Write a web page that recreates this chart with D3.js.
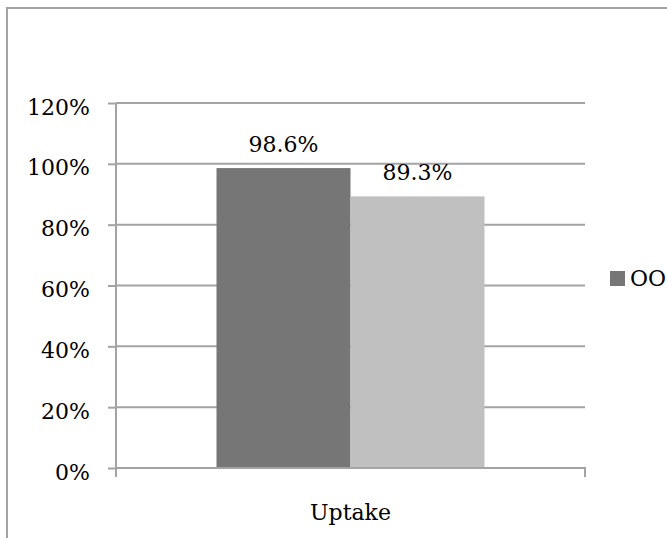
<!DOCTYPE html>
<html>
<head>
<meta charset="utf-8">
<script src="https://cdn.jsdelivr.net/npm/d3@7"></script>
<style>
  html, body { margin: 0; padding: 0; background: #fff; }
  svg { display: block; }
  text { font-family: "DejaVu Serif", "Liberation Serif", serif; fill: #000; }
</style>
</head>
<body>
<script>
// ---- data ----
const categories = ["Uptake"];
const seriesNames = ["OO", "Series 2"];
const seriesValues = [98.6, 89.3];
const seriesColors = ["#767676", "#c0c0c0"];
const legendNames = ["OO"];
const yTicks = [0, 20, 40, 60, 80, 100, 120];

// ---- layout ----
const W = 667, H = 538;
const pLeft = 116, pRight = 585, pTop = 103, pBottom = 468;
const fontSize = 22;

const svg = d3.select("body").append("svg").attr("width", W).attr("height", H);

// outer frame (cropped at right and bottom)
svg.append("path")
  .attr("d", `M7,${H + 5} L7,8 L${W + 5},8`)
  .attr("fill", "none").attr("stroke", "#a3a3a3").attr("stroke-width", 2);

const y = d3.scaleLinear().domain([0, 120]).range([pBottom, pTop]);
const x0 = d3.scaleBand().domain(categories).range([pLeft, pRight]).paddingInner(0).paddingOuter(0.375);
const x1 = d3.scaleBand().domain(seriesNames).range([0, x0.bandwidth()]).padding(0);

// gridlines
svg.append("g").selectAll("line").data(yTicks.filter(d => d > 0)).join("line")
  .attr("x1", pLeft).attr("x2", pRight)
  .attr("y1", d => y(d)).attr("y2", d => y(d))
  .attr("stroke", "#a3a3a3").attr("stroke-width", 2);

// y axis
const yAxis = svg.append("g").attr("transform", `translate(${pLeft},0)`)
  .call(d3.axisLeft(y).tickValues(yTicks).tickSize(8).tickPadding(18).tickFormat(d => d + "%"));
yAxis.select(".domain").remove();
yAxis.selectAll(".tick line").attr("stroke", "#a3a3a3").attr("stroke-width", 2);
yAxis.selectAll(".tick text").attr("font-size", fontSize).attr("font-family", "DejaVu Serif").attr("dy", "0.5em");
svg.append("line").attr("x1", pLeft).attr("x2", pLeft).attr("y1", pTop).attr("y2", pBottom + 9)
  .attr("stroke", "#a3a3a3").attr("stroke-width", 2);

// bars
const groups = svg.append("g").selectAll("g").data(categories).join("g")
  .attr("transform", d => `translate(${x0(d)},0)`);
groups.selectAll("rect").data(seriesNames.map((s, i) => ({ s, v: seriesValues[i], c: seriesColors[i] })))
  .join("rect")
  .attr("x", d => x1(d.s)).attr("width", x1.bandwidth())
  .attr("y", d => y(d.v)).attr("height", d => y(0) - y(d.v))
  .attr("fill", d => d.c);
groups.selectAll("text.lbl").data(seriesNames.map((s, i) => ({ s, v: seriesValues[i] })))
  .join("text").attr("class", "lbl")
  .attr("x", d => x1(d.s) + x1.bandwidth() / 2)
  .attr("y", d => y(d.v) - 16)
  .attr("text-anchor", "middle").attr("font-size", fontSize)
  .text(d => d.v.toFixed(1) + "%");

// x axis baseline with end ticks
const xAxis = svg.append("g").attr("transform", `translate(0,${pBottom})`)
  .call(d3.axisBottom(x0).tickSize(0).tickPadding(36));
xAxis.select(".domain").remove();
xAxis.selectAll(".tick text").attr("font-size", fontSize).attr("font-family", "DejaVu Serif");
svg.append("path")
  .attr("d", `M${pLeft},${pBottom} L${pRight},${pBottom} L${pRight},${pBottom + 9}`)
  .attr("fill", "none").attr("stroke", "#a3a3a3").attr("stroke-width", 2);

// legend
const lg = svg.append("g").attr("transform", "translate(610,271)");
lg.selectAll("rect").data(legendNames).join("rect")
  .attr("x", 0).attr("y", (d, i) => i * 30).attr("width", 15).attr("height", 15)
  .attr("fill", (d, i) => seriesColors[i]);
lg.selectAll("text").data(legendNames).join("text")
  .attr("x", 20).attr("y", (d, i) => i * 30 + 15)
  .attr("font-size", fontSize).text(d => d);
</script>
</body>
</html>
